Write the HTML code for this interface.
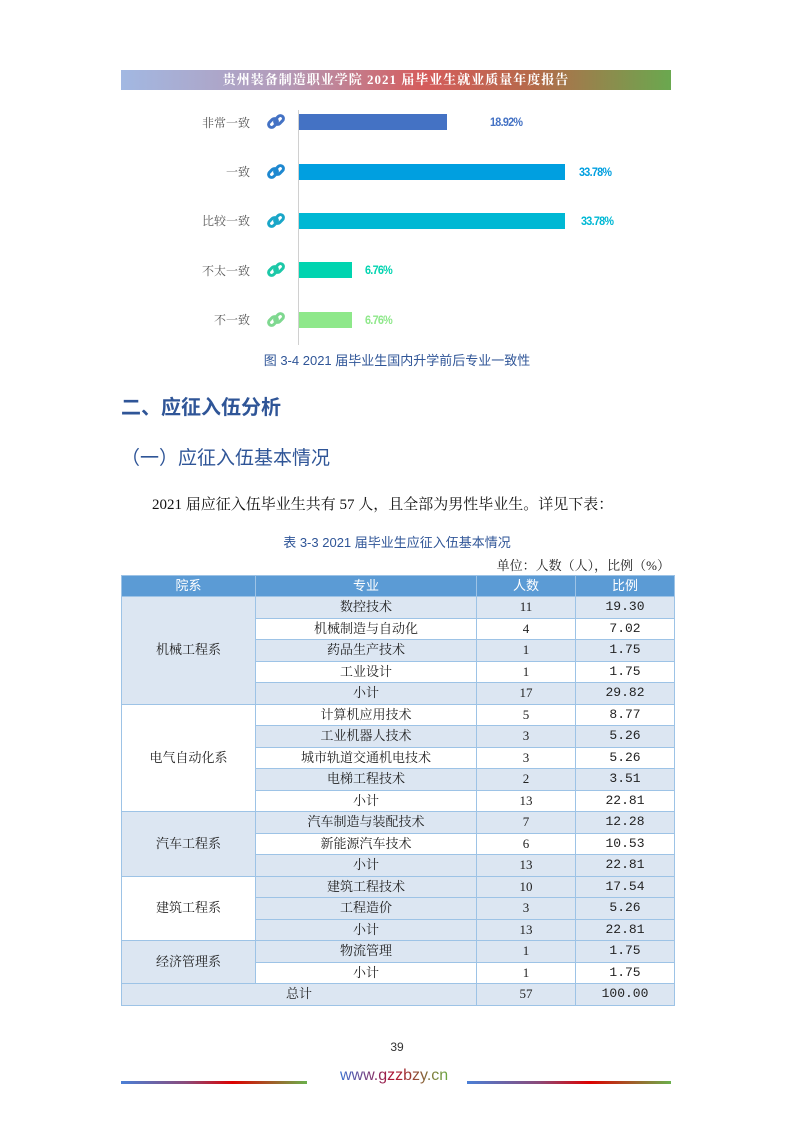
<!DOCTYPE html>
<html><head><meta charset="utf-8">
<style>
body{margin:0;width:794px;height:1123px;background:#fff;position:relative;overflow:hidden;font-family:"Liberation Sans","Noto Sans CJK SC",sans-serif}
.a{position:absolute;white-space:nowrap}
.lab{font-family:"Liberation Serif","Noto Serif CJK SC",serif;font-size:12px;color:#595959;right:544px}
.bar{position:absolute;left:299px;height:16px}
.pct{position:absolute;font-size:12px;font-weight:bold;letter-spacing:-0.8px;transform:scaleX(0.9);transform-origin:left}
.ic{position:absolute;left:266px;width:20px;height:20px}
table{position:absolute;left:121px;top:575px;width:553px;border-collapse:collapse;font-family:"Liberation Serif","Noto Serif CJK SC",serif;font-size:13px;color:#222;table-layout:fixed}
td,th{border:1px solid #9dc3e6;text-align:center;padding:0;height:20.5px;line-height:20px}
td:nth-child(n+2){}
.n{font-family:"Liberation Mono","Noto Serif CJK SC",monospace;font-size:13px}
th{background:#5b9bd5;color:#fff;font-weight:normal;font-family:"Liberation Sans","Noto Sans CJK SC",sans-serif;height:20px}
.b{background:#dce6f2}
</style></head><body>
<div class="a" style="left:121px;top:70px;width:550px;height:20px;background:linear-gradient(90deg,#a2b8e2,#b49ab8 30%,#d55c5c 55%,#b56a4a 75%,#6aa84f);color:#fff;font-weight:bold;font-size:13px;line-height:20px;text-align:center;letter-spacing:1px;font-family:'Liberation Serif','Noto Serif CJK SC',serif">贵州装备制造职业学院 2021 届毕业生就业质量年度报告</div>
<div class="a" style="left:298px;top:110px;width:1px;height:235px;background:#d0d0d0"></div>

<div class="a lab" style="top:114px">非常一致</div>
<div class="a lab" style="top:163px">一致</div>
<div class="a lab" style="top:212px">比较一致</div>
<div class="a lab" style="top:262px">不太一致</div>
<div class="a lab" style="top:311px">不一致</div>

<svg class="ic" style="top:112px" viewBox="0 0 20 20"><g fill="none" stroke="#4472c4" stroke-width="3"><rect x="2" y="8" width="10" height="6" rx="3" transform="rotate(-45 7 11)"/><rect x="8" y="5" width="10" height="6" rx="3" transform="rotate(-45 13 8)"/></g></svg>
<svg class="ic" style="top:162px" viewBox="0 0 20 20"><g fill="none" stroke="#1e88d0" stroke-width="3"><rect x="2" y="8" width="10" height="6" rx="3" transform="rotate(-45 7 11)"/><rect x="8" y="5" width="10" height="6" rx="3" transform="rotate(-45 13 8)"/></g></svg>
<svg class="ic" style="top:211px" viewBox="0 0 20 20"><g fill="none" stroke="#1aa6c8" stroke-width="3"><rect x="2" y="8" width="10" height="6" rx="3" transform="rotate(-45 7 11)"/><rect x="8" y="5" width="10" height="6" rx="3" transform="rotate(-45 13 8)"/></g></svg>
<svg class="ic" style="top:260px" viewBox="0 0 20 20"><g fill="none" stroke="#1dc8a8" stroke-width="3"><rect x="2" y="8" width="10" height="6" rx="3" transform="rotate(-45 7 11)"/><rect x="8" y="5" width="10" height="6" rx="3" transform="rotate(-45 13 8)"/></g></svg>
<svg class="ic" style="top:310px" viewBox="0 0 20 20"><g fill="none" stroke="#7fd890" stroke-width="3"><rect x="2" y="8" width="10" height="6" rx="3" transform="rotate(-45 7 11)"/><rect x="8" y="5" width="10" height="6" rx="3" transform="rotate(-45 13 8)"/></g></svg>

<div class="bar" style="top:114px;width:148px;background:#4472c4"></div>
<div class="bar" style="top:164px;width:266px;background:#009fe0"></div>
<div class="bar" style="top:213px;width:266px;background:#00b8d4"></div>
<div class="bar" style="top:262px;width:53px;background:#00d4b0"></div>
<div class="bar" style="top:312px;width:53px;background:#8ee88a"></div>
<div class="pct" style="left:490px;top:115px;color:#4472c4">18.92%</div>
<div class="pct" style="left:579px;top:165px;color:#009fe0">33.78%</div>
<div class="pct" style="left:581px;top:214px;color:#00b8d4">33.78%</div>
<div class="pct" style="left:365px;top:263px;color:#00d4b0">6.76%</div>
<div class="pct" style="left:365px;top:313px;color:#8ee88a">6.76%</div>

<div class="a" style="left:0;width:794px;text-align:center;top:350px;font-size:13px;color:#2f5597">图 3-4 2021 届毕业生国内升学前后专业一致性</div>
<div class="a" style="left:121px;top:391px;font-size:20px;font-weight:bold;color:#2f5597">二、应征入伍分析</div>
<div class="a" style="left:121px;top:443px;font-size:19px;color:#2f5597">（一）应征入伍基本情况</div>
<div class="a" style="left:152px;top:493px;font-size:15px;color:#111;font-family:'Liberation Serif','Noto Serif CJK SC',serif">2021 届应征入伍毕业生共有 57 人，且全部为男性毕业生。详见下表：</div>
<div class="a" style="left:0;width:794px;text-align:center;top:532px;font-size:13px;color:#2f5597">表 3-3 2021 届毕业生应征入伍基本情况</div>
<div class="a" style="right:124px;top:555px;font-size:13px;color:#222;font-family:'Liberation Serif','Noto Serif CJK SC',serif">单位：人数（人），比例（%）</div>

<table>
<colgroup><col style="width:134px"><col style="width:221px"><col style="width:99px"><col style="width:99px"></colgroup>
<tr><th>院系</th><th>专业</th><th>人数</th><th>比例</th></tr>
<tr class="b"><td rowspan="5" class="b">机械工程系</td><td>数控技术</td><td>11</td><td class="n">19.30</td></tr>
<tr><td>机械制造与自动化</td><td>4</td><td class="n">7.02</td></tr>
<tr class="b"><td>药品生产技术</td><td>1</td><td class="n">1.75</td></tr>
<tr><td>工业设计</td><td>1</td><td class="n">1.75</td></tr>
<tr class="b"><td>小计</td><td>17</td><td class="n">29.82</td></tr>
<tr><td rowspan="5" style="background:#fff">电气自动化系</td><td>计算机应用技术</td><td>5</td><td class="n">8.77</td></tr>
<tr class="b"><td>工业机器人技术</td><td>3</td><td class="n">5.26</td></tr>
<tr><td>城市轨道交通机电技术</td><td>3</td><td class="n">5.26</td></tr>
<tr class="b"><td>电梯工程技术</td><td>2</td><td class="n">3.51</td></tr>
<tr><td>小计</td><td>13</td><td class="n">22.81</td></tr>
<tr class="b"><td rowspan="3" class="b">汽车工程系</td><td>汽车制造与装配技术</td><td>7</td><td class="n">12.28</td></tr>
<tr><td>新能源汽车技术</td><td>6</td><td class="n">10.53</td></tr>
<tr class="b"><td>小计</td><td>13</td><td class="n">22.81</td></tr>
<tr class="b"><td rowspan="3" style="background:#fff">建筑工程系</td><td>建筑工程技术</td><td>10</td><td class="n">17.54</td></tr>
<tr class="b"><td>工程造价</td><td>3</td><td class="n">5.26</td></tr>
<tr class="b"><td>小计</td><td>13</td><td class="n">22.81</td></tr>
<tr class="b"><td rowspan="2" class="b">经济管理系</td><td>物流管理</td><td>1</td><td class="n">1.75</td></tr>
<tr><td>小计</td><td>1</td><td class="n">1.75</td></tr>
<tr class="b"><td colspan="2">总计</td><td>57</td><td class="n">100.00</td></tr>
</table>

<div class="a" style="left:0;width:794px;text-align:center;top:1040px;font-size:12px;color:#333">39</div>
<div class="a" style="left:121px;top:1081px;width:186px;height:3px;background:linear-gradient(90deg,#4a7fd6,#8a4a7a 35%,#d00 60%,#6ab04c)"></div>
<div class="a" style="left:467px;top:1081px;width:204px;height:3px;background:linear-gradient(90deg,#4a7fd6,#8a4a7a 35%,#d00 60%,#6ab04c)"></div>
<div class="a" style="left:340px;top:1067px;font-size:16px;background:linear-gradient(90deg,#3a6fd0,#b01030 50%,#6aa840);-webkit-background-clip:text;background-clip:text;color:transparent">www.gzzbzy.cn</div>
</body></html>
